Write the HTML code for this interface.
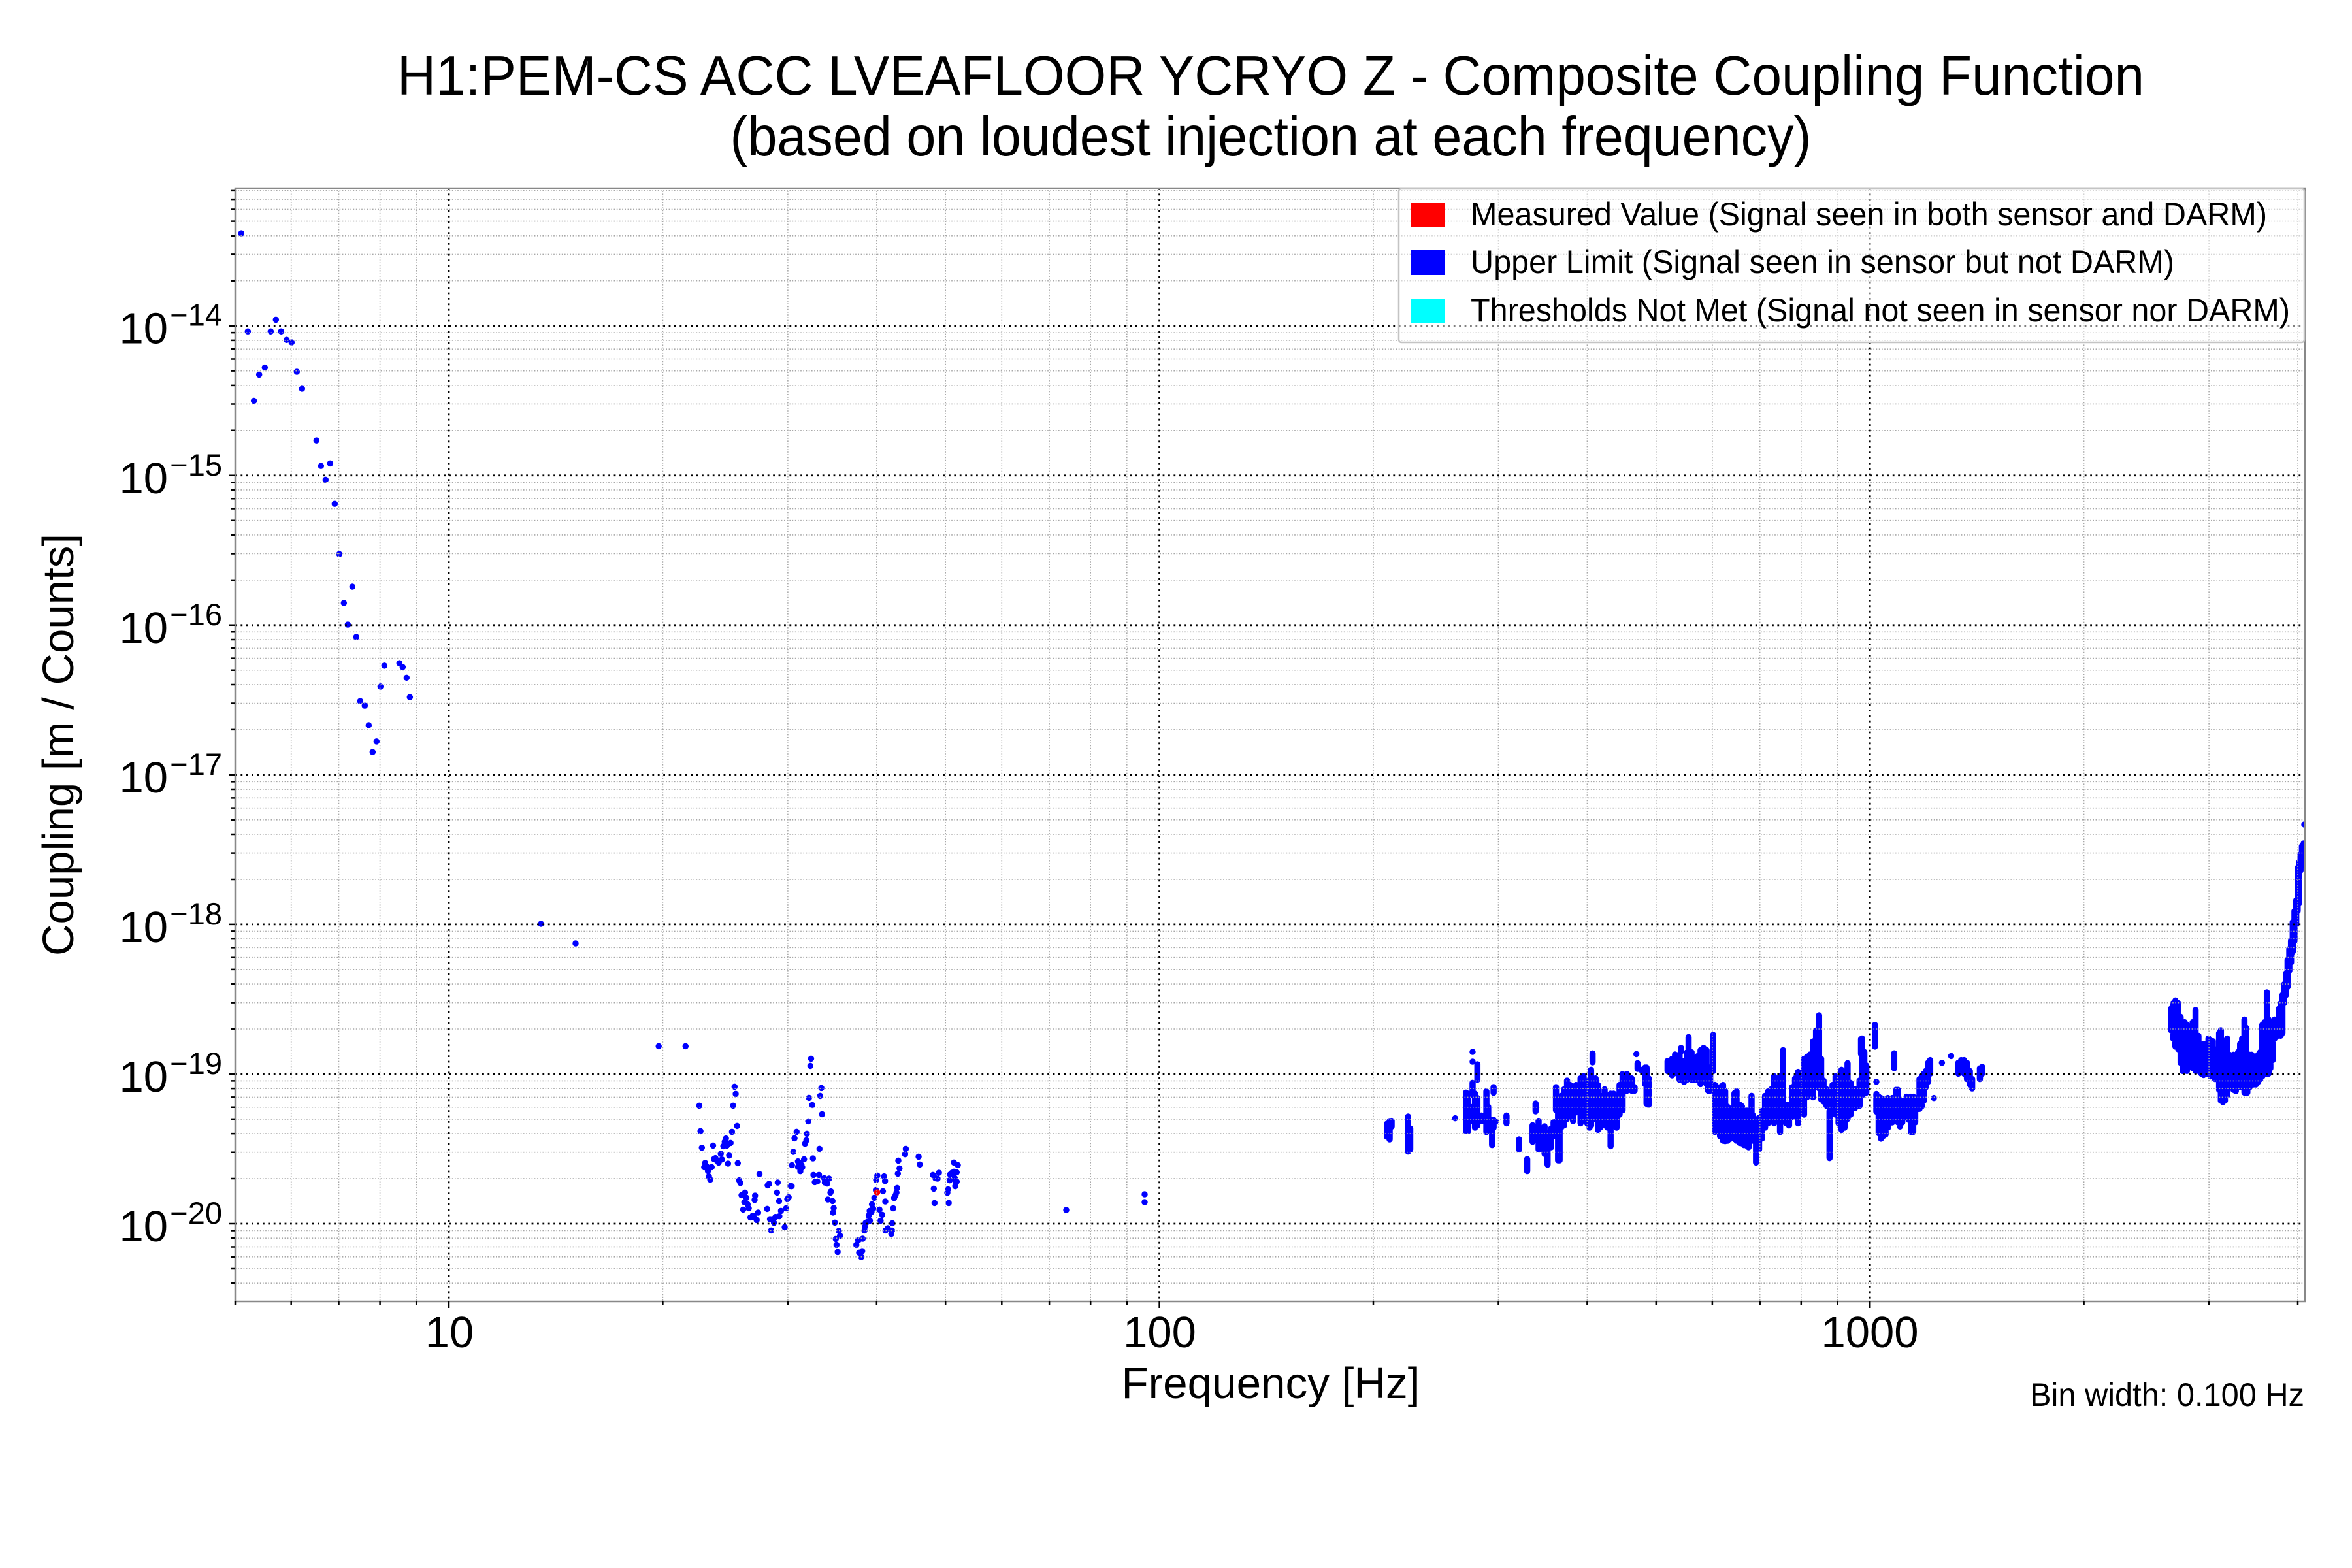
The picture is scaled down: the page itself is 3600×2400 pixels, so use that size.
<!DOCTYPE html>
<html><head><meta charset="utf-8"><style>html,body{margin:0;padding:0;background:#fff}svg{display:block}</style></head>
<body>
<svg width="3600" height="2400" viewBox="0 0 3600 2400" xmlns="http://www.w3.org/2000/svg" font-family="'Liberation Sans', Arial, sans-serif">
<defs><clipPath id="ax"><rect x="360" y="288" width="3168" height="1704"/></clipPath></defs>
<rect width="3600" height="2400" fill="#fff"/>

<!-- scatter -->
<g clip-path="url(#ax)" fill="none" stroke-linecap="round">
 <g transform="translate(360,330) scale(0.333333,0.542005)">
  <path stroke="#0000ff" stroke-width="9.5" vector-effect="non-scaling-stroke" d="M28 50h.01M58 327h.01M86 523h.01M110 449h.01M136 429h.01M163 327h.01M187 294h.01M211 327h.01M236 351h.01M259 358h.01M283 441h.01M307 489h.01M373 635h.01M394 707h.01M436 700h.01M415 746h.01M457 814h.01M478 956h.01M538 1048h.01M499 1094h.01M517 1155h.01M556 1190h.01M685 1271h.01M754 1264h.01M769 1275h.01M787 1305h.01M667 1330h.01M802 1360h.01M574 1371h.01M595 1384h.01M613 1439h.01M649 1485h.01M631 1515h.01"/>
 </g>
 <path stroke="#0000ff" stroke-width="9.5" d="M828 1414h.01M881 1444h.01M1632 1852h.01M1752 1828h.01M1752 1840h.01M2127 1716V1744M2123 1720V1740"/>
 <g transform="translate(950,1550) scale(0.357143,0.333333)">
  <path stroke="#0000ff" stroke-width="9.5" vector-effect="non-scaling-stroke" d="M163 154h.01M278 154h.01M816 211h.01M813 244h.01M488 340h.01M493 373h.01M482 427h.01M337 427h.01M860 346h.01M855 382h.01M807 391h.01M821 424h.01M863 466h.01M499 520h.01M477 547h.01M342 544h.01M804 499h.01M754 547h.01M798 556h.01M745 577h.01M348 620h.01M396 610h.01M451 578h.01M446 593h.01M440 613h.01M455 610h.01M471 598h.01M429 648h.01M465 656h.01M796 586h.01M790 602h.01M852 625h.01M740 639h.01M406 668h.01M400 672h.01M413 680h.01M420 688h.01M434 674h.01M460 693h.01M502 691h.01M362 690h.01M358 709h.01M368 705h.01M374 727h.01M390 709h.01M378 752h.01M384 767h.01M734 700h.01M760 683h.01M770 690h.01M778 710h.01M786 673h.01M760 708h.01M770 728h.01M824 669h.01M765 695h.01M775 700h.01M595 741h.01M508 770h.01M513 782h.01M826 745h.01M850 745h.01M832 778h.01M843 775h.01M872 760h.01M893 762h.01M875 780h.01M885 785h.01M673 780h.01M636 786h.01M630 793h.01M728 796h.01M733 797h.01M518 838h.01M533 826h.01M539 850h.01M530 870h.01M544 880h.01M549 898h.01M525 904h.01M576 840h.01M574 860h.01M670 826h.01M679 865h.01M720 848h.01M714 856h.01M901 821h.01M899 826h.01M908 865h.01M888 858h.01M913 897h.01M910 918h.01M628 901h.01M687 910h.01M709 898h.01M589 918h.01M556 940h.01M566 932h.01M572 940h.01M583 952h.01M640 948h.01M650 948h.01M664 938h.01M680 935h.01M657 965h.01M645 1000h.01M703 985h.01M918 964h.01M935 1002h.01M940 1024h.01M922 1039h.01M925 1066h.01M930 1099h.01M1010 1066h.01M1018 1046h.01M1037 1038h.01M1022 1102h.01M1031 1122h.01M1035 1095h.01M1045 1000h.01M1047 983h.01M1050 965h.01M1058 960h.01M1068 955h.01M1063 932h.01M1067 910h.01M1077 880h.01M1082 900h.01M1075 915h.01M1087 850h.01M1094 815h.01M1100 748h.01M1095 768h.01M1129 752h.01M1133 773h.01M1124 820h.01M1134 867h.01M1109 904h.01M1121 928h.01M1114 955h.01M1135 1000h.01M1145 990h.01M1160 1016h.01M1163 1000h.01M1164 967h.01M1168 898h.01M1172 851h.01M1178 838h.01M1185 805h.01M1182 826h.01M1188 739h.01M1195 715h.01M1190 679h.01M1219 650h.01M1222 625h.01M1277 661h.01M1282 697h.01M1338 745h.01M1349 760h.01M1364 735h.01M1358 762h.01M1342 808h.01M1345 874h.01M1400 827h.01M1403 811h.01M1406 874h.01M1410 770h.01M1412 743h.01M1420 735h.01M1428 730h.01M1440 733h.01M1445 700h.01M1428 688h.01M1432 760h.01M1436 780h.01M1440 776h.01M1434 797h.01"/>
  <path stroke="#ff0000" stroke-width="9.5" vector-effect="non-scaling-stroke" d="M1099 825h.01"/>
 </g>
 <g transform="translate(2130,1530) scale(0.459137,0.333333)">
  <path stroke="#0000ff" stroke-width="9.5" vector-effect="non-scaling-stroke" d="M0 557V583M55 537V698M62 592V688M212 545h.01M248 427V603M255 432V603M262 492V558M270 240h.01M270 285h.01M270 382V438M270 512V528M278 432V588M286 297V368M286 452V578M300 532V558M316 422V608M322 492V588M330 552V598M335 592V668M340 402V428M340 552V588M347 560h.01M383 532V568M425 642V688M452 732V788M470 577V653M480 477V513M490 557V688M500 592V688M510 582V708M520 612V758M532 592V678M540 562V628M548 402V508M555 472V738M560 592V738M565 442V588M575 412V578M585 372V548M595 392V508M605 412V558M615 392V518M630 362V568M640 352V548M652 372V568M660 402V588M665 322V578M670 247V288M680 362V548M688 392V598M695 442V588M710 412V578M720 442V588M730 432V673M740 432V548M750 452V588M760 392V528M770 342V508M785 342V418M800 362V418M810 402V418M816 250h.01M820 292V318M835 322V328M845 312V388M850 312V478M857 362V483M920 282V328M935 272V348M945 252V338M960 252V368M965 222V238M975 282V378M985 242V368M990 172V258M1000 242V368M1010 282V368M1020 260V370M1030 232V388M1040 222V318M1050 232V388M1055 312V418M1062 312V418M1072 162V328M1078 392V608M1085 402V588M1095 402V628M1105 392V648M1112 420V650M1120 492V648M1128 500V640M1135 512V628M1143 430V640M1150 422V648M1160 482V658M1168 490V660M1175 512V668M1183 510V670M1190 512V678M1200 442V588M1205 532V648M1215 622V748M1225 542V688M1235 512V638M1245 442V588M1255 422V568M1265 412V558M1275 352V568M1285 382V548M1295 352V608M1305 232V548M1315 482V568M1325 482V578M1335 402V538M1345 362V508M1355 332V568M1365 372V448M1375 272V528M1385 262V448M1395 252V428M1405 192V448M1415 142V368M1425 72V408M1432 272V458M1440 372V468M1450 412V488M1460 512V728M1470 392V518M1480 352V528M1490 412V568M1500 322V598M1510 342V588M1520 292V548M1530 382V528M1545 412V498M1560 372V488M1565 182V250"/>
 </g>
 <g transform="translate(2850,1150) scale(0.440141,0.414594)">
  <path stroke="#0000ff" stroke-width="9.5" vector-effect="non-scaling-stroke" d="M0 1060V1270M8 1110V1240M15 1160V1260M45 1010V1090M50 1220h.01M50 1265V1330M58 1275V1410M66 1280V1430M74 1290V1420M82 1285V1415M90 1280V1390M98 1290V1370M105 1280V1370M112 1115V1170M112 1290V1360M118 1250V1360M125 1250V1370M132 1290V1385M140 1290V1370M148 1295V1350M155 1275V1340M162 1280V1360M170 1275V1405M178 1275V1405M185 1280V1370M192 1285V1320M200 1210V1320M208 1200V1310M215 1190V1290M222 1180V1240M230 1150V1220M237 1140V1190M250 1280h.01M278 1150h.01M310 1125h.01M335 1150V1190M345 1140V1170M355 1140V1190M365 1150V1210M375 1180V1230M383 1210V1245M410 1170V1210M418 1165V1190M1075 950V1030M1082 930V1060M1090 920V1090M1100 930V1100M1108 980V1150M1115 1010V1180M1122 1000V1170M1130 1010V1180M1140 1030V1140M1150 1000V1170M1160 955V1180M1170 1050V1180M1180 1090V1190M1188 1080V1195M1195 1080V1190M1205 1060V1190M1212 1070V1200M1220 1070V1190M1228 1100V1210M1235 1110V1210M1242 1040V1250M1248 1030V1290M1255 1070V1295M1262 1090V1290M1270 1060V1270M1278 1120V1240M1285 1130V1230M1292 1120V1250M1300 1130V1255M1308 1110V1240M1315 1080V1230M1322 1060V1240M1330 990V1260M1335 1020V1250M1340 1120V1260M1348 1120V1240M1355 1120V1230M1362 1130V1230M1370 1140V1230M1378 1120V1220M1385 1110V1210M1392 1010V1200M1400 1000V1190M1408 890V1190M1414 990V1190M1420 1000V1170M1428 1010V1140M1435 990V1060M1442 990V1050M1450 950V1050M1456 930V1050M1462 900V1040M1468 860V930M1474 820V900M1480 770V870M1486 730V810M1492 700V780M1498 630V740M1504 590V700M1510 550V640M1515 430V590M1520 410V560M1525 380V440M1530 350V420M1536 340V410M1538 270h.01"/>
 </g>
</g>

<!-- minor grid -->
<g fill="none" stroke="#a8a8a8" stroke-width="1.6" stroke-dasharray="1.6 2.6">
 <path d="M360 291.84H3528M360 305.13H3528M360 320.46H3528M360 338.6H3528M360 360.8H3528M360 389.41H3528M360 429.75H3528M360 509.18H3528M360 520.89H3528M360 534.18H3528M360 549.51H3528M360 567.65H3528M360 589.85H3528M360 618.46H3528M360 658.8H3528M360 738.23H3528M360 749.94H3528M360 763.23H3528M360 778.56H3528M360 796.7H3528M360 818.9H3528M360 847.51H3528M360 887.85H3528M360 967.28H3528M360 978.99H3528M360 992.28H3528M360 1007.61H3528M360 1025.75H3528M360 1047.95H3528M360 1076.56H3528M360 1116.9H3528M360 1196.33H3528M360 1208.04H3528M360 1221.33H3528M360 1236.66H3528M360 1254.8H3528M360 1277H3528M360 1305.61H3528M360 1345.95H3528M360 1425.38H3528M360 1437.09H3528M360 1450.38H3528M360 1465.71H3528M360 1483.85H3528M360 1506.05H3528M360 1534.66H3528M360 1575H3528M360 1654.43H3528M360 1666.14H3528M360 1679.43H3528M360 1694.76H3528M360 1712.9H3528M360 1735.1H3528M360 1763.71H3528M360 1804.05H3528M360 1883.48H3528M360 1895.19H3528M360 1908.48H3528M360 1923.81H3528M360 1941.95H3528M360 1964.15H3528"/>
 <path d="M445.7 288V1992M518.5 288V1992M581.6 288V1992M637.2 288V1992M1014.4 288V1992M1205.9 288V1992M1341.8 288V1992M1447.2 288V1992M1533.3 288V1992M1606.1 288V1992M1669.2 288V1992M1724.8 288V1992M2102 288V1992M2293.5 288V1992M2429.4 288V1992M2534.8 288V1992M2620.9 288V1992M2693.7 288V1992M2756.8 288V1992M2812.4 288V1992M3189.6 288V1992M3381.1 288V1992M3517 288V1992"/>
</g>
<!-- major grid -->
<g fill="none" stroke="#000" stroke-width="2.8" stroke-dasharray="2.8 5.6">
 <path d="M360 498.7H3528M360 727.75H3528M360 956.8H3528M360 1185.85H3528M360 1414.9H3528M360 1643.95H3528M360 1873H3528"/>
 <path d="M687 288V1992M1774.6 288V1992M2862.2 288V1992"/>
</g>

<!-- spines -->
<rect x="360" y="288" width="3168" height="1704" fill="none" stroke="#888" stroke-width="2.5"/>

<!-- ticks -->
<g stroke="#000" stroke-width="2.5" fill="none">
 <path d="M350 498.7H360M350 727.75H360M350 956.8H360M350 1185.85H360M350 1414.9H360M350 1643.95H360M350 1873H360"/>
 <path d="M354 291.84H360M354 305.13H360M354 320.46H360M354 338.6H360M354 360.8H360M354 389.41H360M354 429.75H360M354 509.18H360M354 520.89H360M354 534.18H360M354 549.51H360M354 567.65H360M354 589.85H360M354 618.46H360M354 658.8H360M354 738.23H360M354 749.94H360M354 763.23H360M354 778.56H360M354 796.7H360M354 818.9H360M354 847.51H360M354 887.85H360M354 967.28H360M354 978.99H360M354 992.28H360M354 1007.61H360M354 1025.75H360M354 1047.95H360M354 1076.56H360M354 1116.9H360M354 1196.33H360M354 1208.04H360M354 1221.33H360M354 1236.66H360M354 1254.8H360M354 1277H360M354 1305.61H360M354 1345.95H360M354 1425.38H360M354 1437.09H360M354 1450.38H360M354 1465.71H360M354 1483.85H360M354 1506.05H360M354 1534.66H360M354 1575H360M354 1654.43H360M354 1666.14H360M354 1679.43H360M354 1694.76H360M354 1712.9H360M354 1735.1H360M354 1763.71H360M354 1804.05H360M354 1883.48H360M354 1895.19H360M354 1908.48H360M354 1923.81H360M354 1941.95H360M354 1964.15H360"/>
 <path d="M687 1992V2002M1774.6 1992V2002M2862.2 1992V2002"/>
 <path d="M360 1992V1997M445.7 1992V1997M518.5 1992V1997M581.6 1992V1997M637.2 1992V1997M1014.4 1992V1997M1205.9 1992V1997M1341.8 1992V1997M1447.2 1992V1997M1533.3 1992V1997M1606.1 1992V1997M1669.2 1992V1997M1724.8 1992V1997M2102 1992V1997M2293.5 1992V1997M2429.4 1992V1997M2534.8 1992V1997M2620.9 1992V1997M2693.7 1992V1997M2756.8 1992V1997M2812.4 1992V1997M3189.6 1992V1997M3381.1 1992V1997M3517 1992V1997"/>
</g>

<!-- y tick labels -->
<g fill="#000">
 <text x="257" y="525.7" text-anchor="end" font-size="67">10</text><text x="340" y="498.7" text-anchor="end" font-size="47">−14</text>
 <text x="257" y="754.75" text-anchor="end" font-size="67">10</text><text x="340" y="727.75" text-anchor="end" font-size="47">−15</text>
 <text x="257" y="983.8" text-anchor="end" font-size="67">10</text><text x="340" y="956.8" text-anchor="end" font-size="47">−16</text>
 <text x="257" y="1212.85" text-anchor="end" font-size="67">10</text><text x="340" y="1185.85" text-anchor="end" font-size="47">−17</text>
 <text x="257" y="1441.9" text-anchor="end" font-size="67">10</text><text x="340" y="1414.9" text-anchor="end" font-size="47">−18</text>
 <text x="257" y="1670.95" text-anchor="end" font-size="67">10</text><text x="340" y="1643.95" text-anchor="end" font-size="47">−19</text>
 <text x="257" y="1900" text-anchor="end" font-size="67">10</text><text x="340" y="1873" text-anchor="end" font-size="47">−20</text>
</g>
<!-- x tick labels -->
<g fill="#000" font-size="67" text-anchor="middle">
 <text x="688" y="2062">10</text>
 <text x="1775" y="2062">100</text>
 <text x="2862" y="2062">1000</text>
</g>

<!-- axis labels -->
<text x="1945" y="2140" text-anchor="middle" font-size="66.7" textLength="457" lengthAdjust="spacingAndGlyphs">Frequency [Hz]</text>
<text transform="translate(112,1140) rotate(-90)" x="0" y="0" text-anchor="middle" font-size="66.7" textLength="646" lengthAdjust="spacingAndGlyphs">Coupling [m / Counts]</text>

<!-- title -->
<text x="1945" y="145" text-anchor="middle" font-size="85" textLength="2674" lengthAdjust="spacingAndGlyphs">H1:PEM-CS ACC LVEAFLOOR YCRYO Z - Composite Coupling Function</text>
<text x="1945" y="238" text-anchor="middle" font-size="85" textLength="1655" lengthAdjust="spacingAndGlyphs">(based on loudest injection at each frequency)</text>

<!-- legend -->
<rect x="2141" y="289" width="1386" height="235" rx="4" fill="#fff" fill-opacity="0.5" stroke="#c4c4c4" stroke-width="2.5"/>
<rect x="2159" y="310" width="53" height="38" fill="#ff0000"/>
<rect x="2159" y="383" width="53" height="38" fill="#0000ff"/>
<rect x="2159" y="457" width="53" height="38" fill="#00ffff"/>
<g font-size="50" fill="#000">
 <text x="2251" y="345" textLength="1219" lengthAdjust="spacingAndGlyphs">Measured Value (Signal seen in both sensor and DARM)</text>
 <text x="2251" y="418" textLength="1077" lengthAdjust="spacingAndGlyphs">Upper Limit (Signal seen in sensor but not DARM)</text>
 <text x="2251" y="492" textLength="1254" lengthAdjust="spacingAndGlyphs">Thresholds Not Met (Signal not seen in sensor nor DARM)</text>
</g>

<text x="3527" y="2152" text-anchor="end" font-size="50" textLength="420" lengthAdjust="spacingAndGlyphs">Bin width: 0.100 Hz</text>
</svg>
</body></html>
